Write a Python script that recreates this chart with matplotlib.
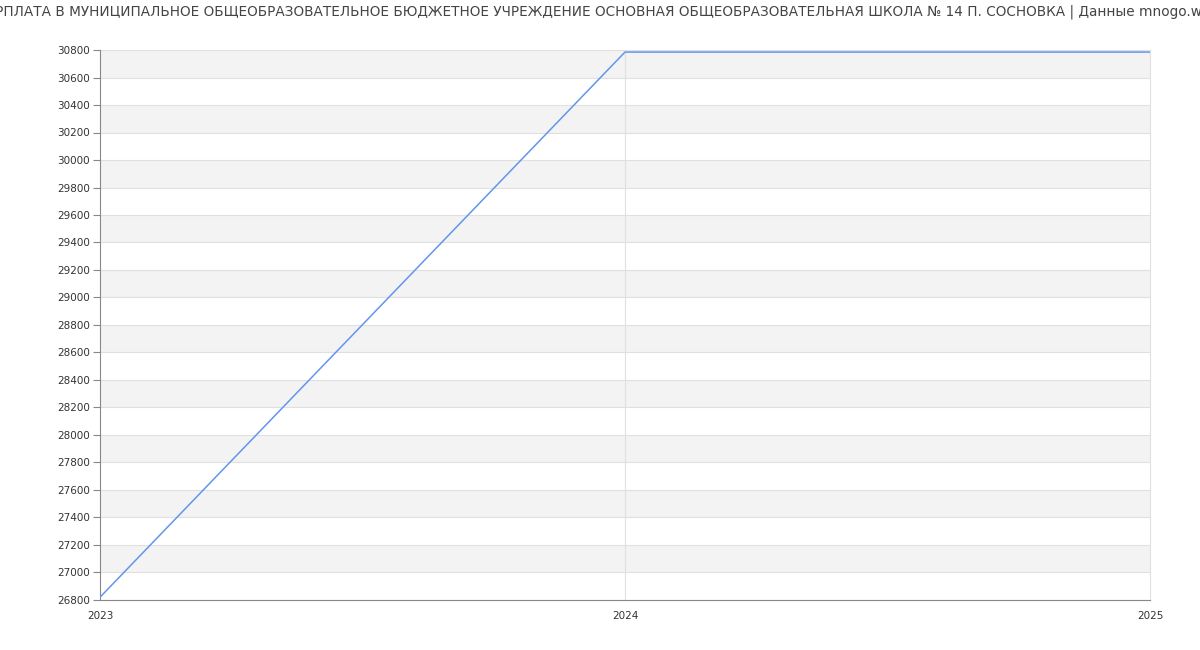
import matplotlib.pyplot as plt

years = [2023, 2024, 2025]
salary = [26820, 30785, 30785]
title = ('ЗАРПЛАТА В МУНИЦИПАЛЬНОЕ ОБЩЕОБРАЗОВАТЕЛЬНОЕ БЮДЖЕТНОЕ УЧРЕЖДЕНИЕ '
         'ОСНОВНАЯ ОБЩЕОБРАЗОВАТЕЛЬНАЯ ШКОЛА № 14 П. СОСНОВКА | Данные mnogo.work')
y_min, y_max, y_step = 26800, 30800, 200

fig = plt.figure(figsize=(12, 6.5), dpi=100)
ax = fig.add_axes([100 / 1200, 50 / 650, 1050 / 1200, 550 / 650])

# полосы фона
for y in range(y_min, y_max, y_step):
    if ((y - y_min) // y_step) % 2 == 1:
        ax.axhspan(y, y + y_step, color='#f3f3f3', lw=0, zorder=0)
for y in range(y_min, y_max + 1, y_step):
    ax.axhline(y, color='#e0e0e0', lw=0.8, zorder=1)
ax.axvline(2024, color='#e0e0e0', lw=0.8, zorder=1)

ax.plot(years, salary, color='#6495ed', lw=1.1, zorder=3)

ax.set_xlim(2023, 2025)
ax.set_ylim(y_min, y_max)
ax.set_yticks(range(y_min, y_max + 1, y_step))
ax.set_xticks(years)
ax.set_xticklabels([str(y) for y in years])

ax.spines['top'].set_visible(False)
ax.spines['right'].set_color('#e0e0e0')
ax.spines['left'].set_color('#888888')
ax.spines['bottom'].set_color('#888888')
ax.tick_params(axis='y', length=5, color='#888888', labelsize=7.5, labelcolor='#333333', pad=2)
ax.tick_params(axis='x', length=0, labelsize=7.5, labelcolor='#333333', pad=8)

fig.text(0.5, 1 - 12 / 650, title, ha='center', va='center', fontsize=9.8, color='#444444')

fig.savefig('out.png', dpi=100)
